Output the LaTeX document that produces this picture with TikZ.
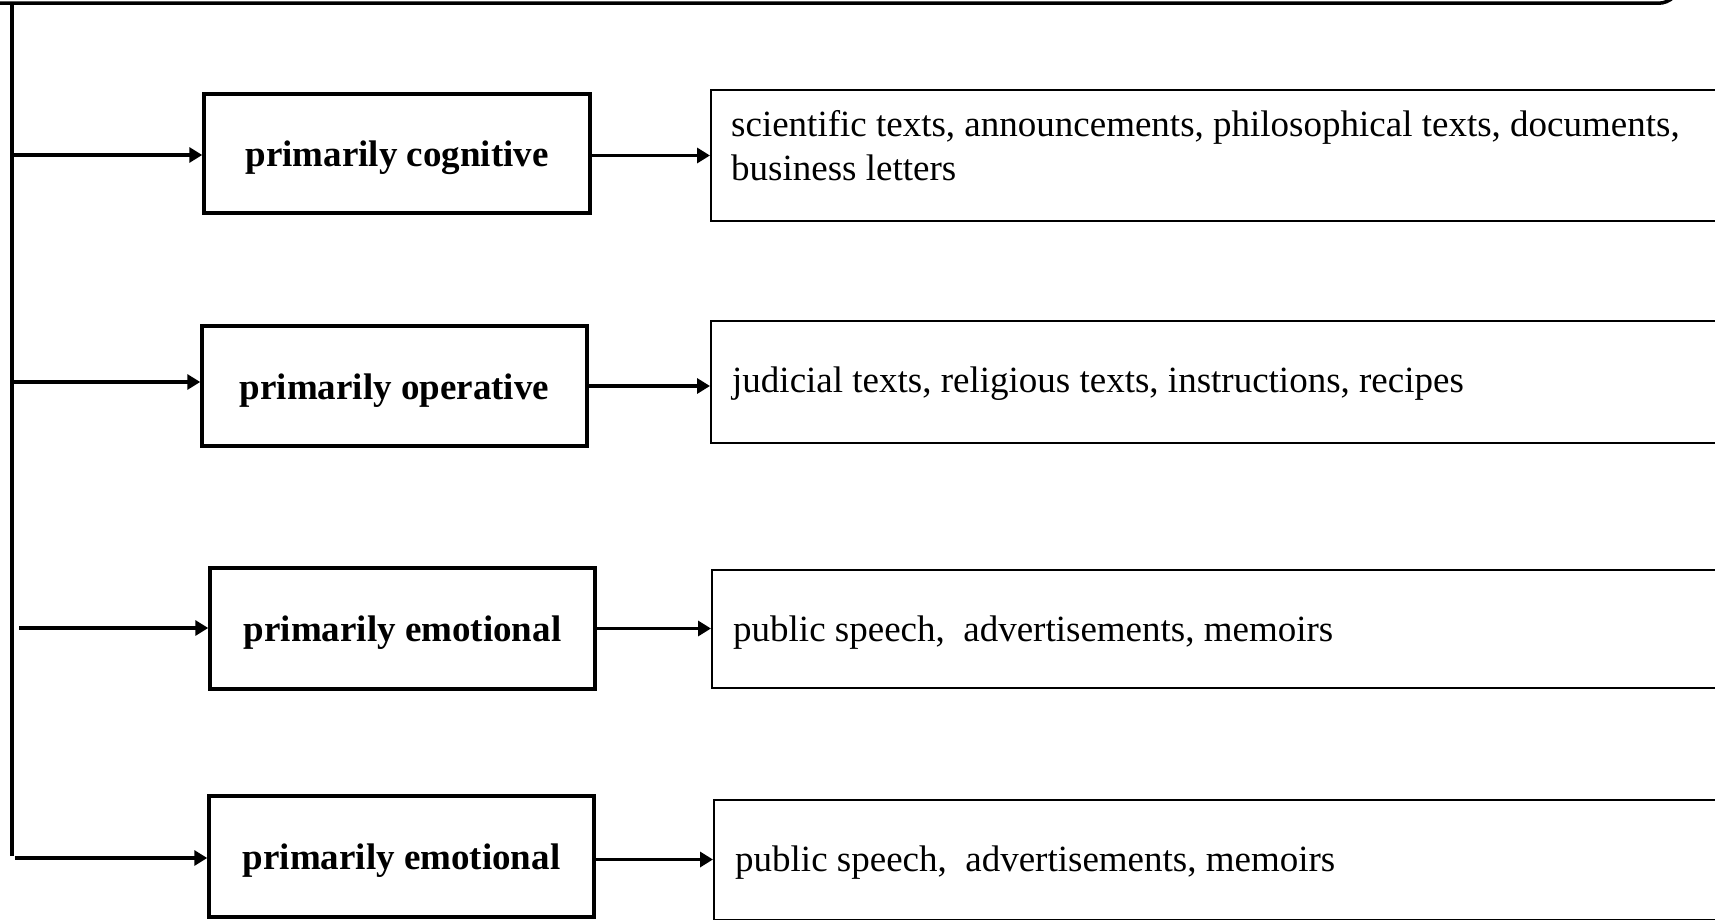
\documentclass[tikz,border=0pt]{standalone}
\usepackage{fontspec}
\setmainfont{Liberation Serif}
\usetikzlibrary{arrows.meta}
\begin{document}
\begin{tikzpicture}[x=1pt,y=-1pt,
  thick line/.style={line width=3.5pt},
  arr/.style={thick line,-{Triangle[length=13pt,width=15pt]}},
  typebox/.style={draw,thick line,minimum width=385pt,minimum height=120pt,inner sep=0pt,
     text height=26pt,text depth=0pt,
     font=\fontsize{37}{44}\selectfont\bfseries},
  examplebox/.style={draw,line width=2pt,anchor=north west,minimum width=1060pt,inner sep=0pt},
  exampletext/.style={inner sep=0pt,font=\fontsize{37}{44}\selectfont}]
\useasboundingbox (0,0) rectangle (1715,920);
% top frame (cut off)
\node[draw,thick line,rounded corners=22pt,anchor=south east,minimum width=1800pt,minimum height=120pt] (frame) at (1682,5) {};
\coordinate (vtop) at (12,3);
\coordinate (vbot) at (12,856);
\draw[thick line] (vtop) -- (vbot);
% type boxes
\node[typebox,minimum width=386pt,minimum height=119pt] (b1) at (397,153.5) {primarily cognitive};
\node[typebox] (b2) at (394.5,386) {primarily operative};
\node[typebox,minimum height=121pt] (b3) at (402.5,628.5) {primarily emotional};
\node[typebox,minimum height=121pt] (b4) at (401.5,856.5) {primarily emotional};
% example boxes
\node[examplebox,minimum height=131pt] (r1) at (710,89) {};
\node[examplebox,minimum height=122pt] (r2) at (710,320) {};
\node[examplebox,minimum height=118pt] (r3) at (711,569) {};
\node[examplebox,minimum height=120pt] (r4) at (713,799) {};
\node[exampletext,anchor=north west,align=left] (t1) at (731,110)
  {scientific texts, announcements, philosophical texts, documents,\\business letters};
\node[exampletext,anchor=base west] (t2) at (732,392.5) {judicial texts, religious texts, instructions, recipes};
\node[exampletext,anchor=base west] (t3) at (733,641) {public speech,~ advertisements, memoirs};
\node[exampletext,anchor=base west] (t4) at (735,871.5) {public speech,~ advertisements, memoirs};
% arrows from the vertical line
\coordinate (a1) at (12,155);
\coordinate (a2) at (12,382);
\coordinate (a3) at (19,628);
\coordinate (a4) at (15,858);
\draw[arr] (a1) -- (a1 -| b1.west);
\draw[arr] (a2) -- (a2 -| b2.west);
\draw[arr] (a3) -- (a3 -| b3.west);
\draw[arr] (a4) -- (a4 -| b4.west);
% arrows to the examples
\draw[arr] ([yshift=-2pt]b1.east) -- ([yshift=-2pt]b1.east -| r1.west);
\draw[arr] (b2.east) -- (b2.east -| r2.west);
\draw[arr] (b3.east) -- (b3.east -| r3.west);
\draw[arr] ([yshift=-3pt]b4.east) -- ([yshift=-3pt]b4.east -| r4.west);
\end{tikzpicture}
\end{document}
